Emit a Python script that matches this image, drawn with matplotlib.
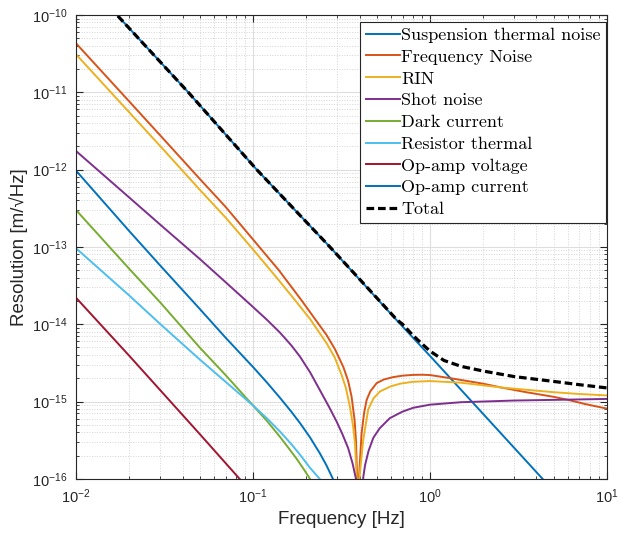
import matplotlib
matplotlib.use("Agg")
import matplotlib.pyplot as plt
from matplotlib.font_manager import FontProperties
from matplotlib.ticker import NullFormatter

# values (frequency in Hz, resolution in m/sqrt(Hz))
susp_f = [0.01, 0.0181, 0.0431, 0.105, 0.272, 0.648, 1.0, 2.0, 4.33, 10.0]
susp_y = [3.8e-10, 8.6e-11, 1.0e-11, 1.0e-12, 1.0e-13, 1.13e-14, 3.9e-15, 6.9e-16, 1.0e-16, 1.2e-17]

fnoise_f = [0.01, 0.02, 0.03, 0.05, 0.07, 0.1, 0.14, 0.188, 0.224, 0.26, 0.29, 0.324, 0.345,
            0.361, 0.375, 0.382, 0.388, 0.392, 0.397, 0.411, 0.425, 0.439, 0.46, 0.5, 0.55,
            0.621, 0.7, 0.805, 0.9, 1.0, 1.31, 2.0, 2.52, 3.5, 5.0, 6.05, 7.5, 10.0]
fnoise_y = [4.3e-11, 7.6e-12, 2.75e-12, 7.6e-13, 3.3e-13, 1.25e-13, 5.0e-14, 2.04e-14, 1.17e-14,
            7.3e-15, 4.8e-15, 2.8e-15, 1.85e-15, 1.15e-15, 5.8e-16, 3.2e-16, 1.0e-16, 1e-18,
            1.0e-16, 3.9e-16, 7.2e-16, 1.05e-15, 1.35e-15, 1.73e-15, 1.93e-15, 2.07e-15, 2.16e-15,
            2.21e-15, 2.22e-15, 2.2e-15, 2.0e-15, 1.7e-15, 1.52e-15, 1.32e-15, 1.15e-15, 1.05e-15,
            9.3e-16, 8.1e-16]

rin_f = [0.01, 0.02, 0.03, 0.05, 0.07, 0.1, 0.14, 0.173, 0.21, 0.261, 0.29, 0.317, 0.335, 0.353,
         0.368, 0.377, 0.386, 0.392, 0.399, 0.42, 0.448, 0.48, 0.522, 0.6, 0.678, 0.8, 1.0, 1.5,
         2.52, 3.5, 5.0, 7.0, 10.0]
rin_y = [3.1e-11, 5.5e-12, 2.0e-12, 5.5e-13, 2.4e-13, 9.3e-14, 3.7e-14, 2.04e-14, 1.17e-14,
         5.65e-15, 3.7e-15, 2.2e-15, 1.5e-15, 8.6e-16, 4.8e-16, 2.9e-16, 1.0e-16, 1e-18, 1.0e-16,
         3.2e-16, 7.9e-16, 1.1e-15, 1.35e-15, 1.57e-15, 1.7e-15, 1.8e-15, 1.84e-15, 1.75e-15,
         1.52e-15, 1.42e-15, 1.32e-15, 1.25e-15, 1.2e-15]

shot_f = [0.01, 0.02, 0.03, 0.05, 0.07, 0.096, 0.12, 0.142, 0.165, 0.1845, 0.21, 0.239, 0.27,
          0.297, 0.32, 0.345, 0.365, 0.382, 0.40, 0.42, 0.43, 0.45, 0.479, 0.52, 0.594, 0.7,
          0.805, 1.0, 1.5, 2.0, 3.0, 5.0, 10.0]
shot_y = [1.74e-12, 4.35e-13, 1.93e-13, 7.0e-14, 3.5e-14, 1.82e-14, 1.14e-14, 7.8e-15, 5.3e-15,
          3.8e-15, 2.4e-15, 1.4e-15, 8.4e-16, 5.5e-16, 3.8e-16, 2.5e-16, 1.6e-16, 1.0e-16, 1e-18,
          1.05e-16, 1.5e-16, 2.3e-16, 3.4e-16, 4.5e-16, 6.1e-16, 7.4e-16, 8.3e-16, 9.1e-16,
          9.8e-16, 1.0e-15, 1.03e-15, 1.05e-15, 1.08e-15]

dark_f = [0.01, 0.02, 0.03, 0.05, 0.07, 0.1, 0.12, 0.142, 0.16, 0.177, 0.195, 0.21, 0.23]
dark_y = [3.0e-13, 5.2e-14, 1.9e-14, 5.0e-15, 2.2e-15, 8.9e-16, 5.6e-16, 3.5e-16, 2.45e-16,
          1.8e-16, 1.3e-16, 1.0e-16, 6e-17]

res_f = [0.01, 0.02, 0.03, 0.05, 0.07, 0.1, 0.12, 0.142, 0.165, 0.1845, 0.21, 0.238, 0.26]
res_y = [9.6e-14, 2.35e-14, 1.0e-14, 3.5e-15, 1.8e-15, 8.9e-16, 6.05e-16, 4.1e-16, 2.8e-16,
         2.05e-16, 1.39e-16, 1.0e-16, 7.5e-17]

opv_f = [0.01, 0.02, 0.05, 0.084, 0.1]
opv_y = [2.2e-14, 3.9e-15, 3.8e-16, 1.0e-16, 6.5e-17]

opi_f = [0.01, 0.02, 0.03, 0.05, 0.07, 0.1, 0.12, 0.142, 0.165, 0.1845, 0.21, 0.239, 0.26,
         0.284, 0.3]
opi_y = [9.7e-13, 1.6e-13, 5.7e-14, 1.58e-14, 6.7e-15, 2.8e-15, 1.76e-15, 1.12e-15, 7.35e-16,
         5.25e-16, 3.44e-16, 2.13e-16, 1.5e-16, 9.8e-17, 7e-17]

total_f = [0.01, 0.0181, 0.0431, 0.105, 0.272, 0.5, 0.648, 0.7, 0.8, 0.9, 1.0, 1.2, 1.5,
           2.0, 3.0, 5.0, 7.0, 10.0]
total_y = [3.8e-10, 8.6e-11, 1.0e-11, 1.0e-12, 1.0e-13, 2.2e-14, 1.15e-14, 1.0e-14, 7.2e-15,
           5.6e-15, 4.5e-15, 3.4e-15, 2.85e-15, 2.48e-15, 2.1e-15, 1.82e-15, 1.65e-15, 1.5e-15]

xticks = [1e-2, 1e-1, 1e0, 1e1]
yticks = [1e-16, 1e-15, 1e-14, 1e-13, 1e-12, 1e-11, 1e-10]

plt.rcParams['font.family'] = ['Liberation Sans', 'DejaVu Sans']
plt.rcParams['axes.unicode_minus'] = True

fig = plt.figure(figsize=(6.18, 5.35), dpi=100)
ax = fig.add_axes([0.123, 0.105, 0.859, 0.867])

lw = 1.4
ax.plot(susp_f, susp_y, color='#0072BD', lw=lw, label='Suspension thermal noise')
ax.plot(fnoise_f, fnoise_y, color='#D95319', lw=lw, label='Frequency Noise')
ax.plot(rin_f, rin_y, color='#EDB120', lw=lw, label='RIN')
ax.plot(shot_f, shot_y, color='#7E2F8E', lw=lw, label='Shot noise')
ax.plot(dark_f, dark_y, color='#77AC30', lw=lw, label='Dark current')
ax.plot(res_f, res_y, color='#4DBEEE', lw=lw, label='Resistor thermal')
ax.plot(opv_f, opv_y, color='#A2142F', lw=lw, label='Op-amp voltage')
ax.plot(opi_f, opi_y, color='#0072BD', lw=lw, label='Op-amp current')
ax.plot(total_f, total_y, color='black', lw=2.3, ls=(0, (2.4, 1.2)), label='Total')

ax.set_xscale('log')
ax.set_yscale('log')
ax.set_xticks(xticks)
ax.set_yticks(yticks)
ax.xaxis.set_minor_formatter(NullFormatter())
ax.yaxis.set_minor_formatter(NullFormatter())
ax.set_xlim(1e-2, 1e1)
ax.set_ylim(1e-16, 1e-10)

ax.grid(which='major', color='#dedede', lw=0.8)
ax.grid(which='minor', color='#d4d4d4', ls=':', lw=0.7)
ax.set_axisbelow(True)

ax.tick_params(which='both', direction='in', top=True, right=True, colors='#262626')
ax.tick_params(which='major', length=5, labelsize=10.5, pad=6)
ax.tick_params(which='minor', length=2.5)
for s in ax.spines.values():
    s.set_color('#262626')
    s.set_linewidth(0.8)

ax.set_xlabel('Frequency [Hz]', fontsize=13.5, color='#262626', labelpad=4)
ax.set_ylabel('Resolution [m/\u221aHz]', fontsize=13.5, color='#262626', labelpad=3)

leg = ax.legend(loc='upper right', bbox_to_anchor=(0.998, 0.985), borderaxespad=0,
                prop=FontProperties(family='cmr10', size=13), fancybox=False,
                handlelength=1.9, handletextpad=0.05, labelspacing=0.34,
                borderpad=0.3, framealpha=1)
leg.get_frame().set_edgecolor('#262626')
leg.get_frame().set_linewidth(0.8)

fig.savefig('out.png', dpi=100)
